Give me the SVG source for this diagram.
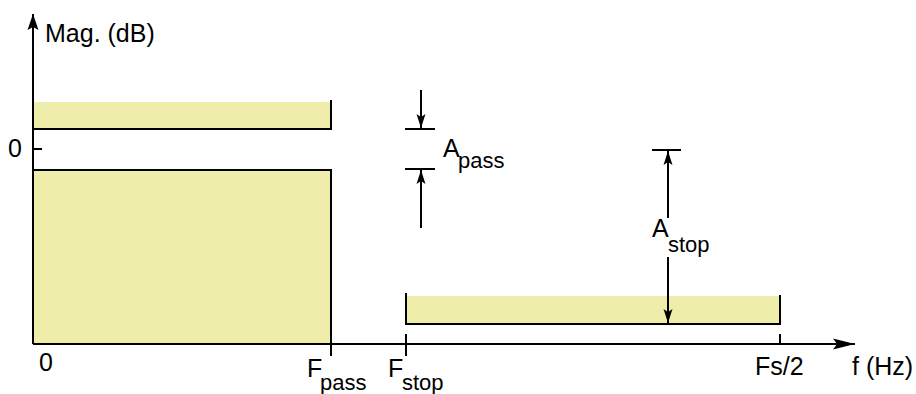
<svg xmlns="http://www.w3.org/2000/svg" width="916" height="394" viewBox="0 0 916 394">
<defs>
<style>
.ln{stroke:#000;stroke-width:2;fill:none}
.band{fill:#EEEEAA;stroke:none}
.t{font-family:"Liberation Sans",Arial,sans-serif;font-size:25px;fill:#000}
.s{font-size:22px}
</style>
<marker id="dim" markerUnits="userSpaceOnUse" markerWidth="20" markerHeight="20" refX="0" refY="0" orient="auto" viewBox="-15 -10 20 20" overflow="visible">
<path d="M0,0 L-14,-4.5 L-11,0 L-14,4.5 Z" fill="#000"/>
</marker>
<marker id="ax" markerUnits="userSpaceOnUse" markerWidth="30" markerHeight="20" refX="0" refY="0" orient="auto" viewBox="-25 -10 30 20" overflow="visible">
<path d="M0,0 L-22,-5.5 L-18,0 L-22,5.5 Z" fill="#000"/>
</marker>
<marker id="axy" markerUnits="userSpaceOnUse" markerWidth="30" markerHeight="20" refX="0" refY="0" orient="auto" viewBox="-25 -10 30 20" overflow="visible">
<path d="M0,0 L-16,-5.5 L-13,0 L-16,5.5 Z" fill="#000"/>
</marker>
</defs>
<rect width="916" height="394" fill="#fff"/>

<g id="passband-upper">
<rect class="band" x="33" y="102" width="298" height="27"/>
<path class="ln" d="M331,100 V129 H33"/>
</g>

<g id="passband-lower">
<rect class="band" x="33" y="170" width="298" height="174"/>
<path class="ln" d="M33,170 H331 V356"/>
</g>

<g id="stopband">
<rect class="band" x="406" y="296" width="374" height="28"/>
<path class="ln" d="M406,293 V324 H780 V295"/>
</g>

<g id="axes">
<path class="ln" d="M33,344 V14" marker-end="url(#axy)"/>
<path class="ln" d="M33,344 H855" marker-end="url(#ax)"/>
<path class="ln" d="M33,149 H42"/>
<path class="ln" d="M406,334 V356"/>
<path class="ln" d="M780,334 V344"/>
<text class="t" x="45" y="42">Mag. (dB)</text>
<text class="t" x="8" y="157">0</text>
<text class="t" x="39" y="371">0</text>
<text class="t" x="307" y="377">F<tspan class="s" x="320" y="390">pass</tspan></text>
<text class="t" x="388" y="377">F<tspan class="s" x="402" y="390">stop</tspan></text>
<text class="t" x="755" y="375">Fs/2</text>
<text class="t" x="852" y="375">f (Hz)</text>
</g>

<g id="connectors">
<path class="ln" d="M405,129 H435"/>
<path class="ln" d="M405,169 H435"/>
<path class="ln" d="M421,90 V128" marker-end="url(#dim)"/>
<path class="ln" d="M421,228 V170" marker-end="url(#dim)"/>
<path class="ln" d="M652,150 H681"/>
<path class="ln" d="M668,218 V151" marker-end="url(#dim)"/>
<path class="ln" d="M668,257 V323" marker-end="url(#dim)"/>
</g>

<g id="apass-label">
<text class="t" x="443" y="157">A<tspan class="s" x="458" y="168">pass</tspan></text>
</g>
<g id="astop-label">
<text class="t" x="652" y="237">A<tspan class="s" x="668" y="252">stop</tspan></text>
</g>
</svg>
